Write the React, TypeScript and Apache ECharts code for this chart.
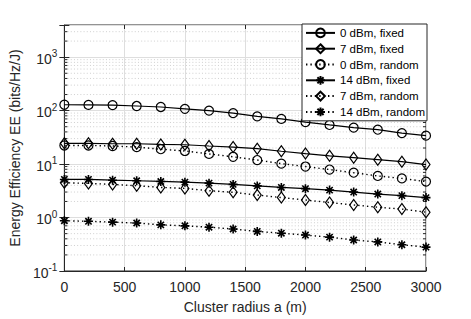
import React, { useEffect, useRef } from "react";
import * as echarts from "echarts";

const radius = [0, 200, 400, 600, 800, 1000, 1200, 1400, 1600, 1800, 2000, 2200, 2400, 2600, 2800, 3000];
const fixed0dBm = [129, 128, 127, 122, 117, 108, 100, 90, 78, 70, 61, 54, 48, 44, 38, 34];
const fixed7dBm = [24.5, 24.5, 24, 24, 23.3, 23, 21.8, 20.8, 19.4, 17.4, 15.7, 14.3, 13.2, 12.1, 11.1, 9.8];
const random0dBm = [22.3, 22.3, 21.8, 20.8, 19.0, 17.6, 15.5, 13.7, 11.9, 10.2, 9.0, 7.9, 6.9, 6.0, 5.4, 4.7];
const fixed14dBm = [5.16, 5.16, 5.0, 4.88, 4.73, 4.59, 4.4, 4.17, 3.91, 3.66, 3.47, 3.26, 3.0, 2.75, 2.57, 2.36];
const random7dBm = [4.48, 4.35, 4.17, 3.94, 3.66, 3.51, 3.18, 2.96, 2.64, 2.36, 2.13, 1.91, 1.72, 1.56, 1.44, 1.26];
const random14dBm = [0.87, 0.85, 0.82, 0.79, 0.73, 0.7, 0.66, 0.61, 0.55, 0.51, 0.47, 0.43, 0.38, 0.35, 0.31, 0.28];

const seriesNames = ["0 dBm, fixed", "7 dBm, fixed", "0 dBm, random", "14 dBm, fixed", "7 dBm, random", "14 dBm, random"];
const xMin = 0;
const xMax = 3000;
const xStep = 500;
const yMin = 0.1;
const yMax = 4000;
const minorGridValues = [
  0.2, 0.3, 0.4, 0.5, 0.6, 0.7, 0.8, 0.9,
  2, 3, 4, 5, 6, 7, 8, 9,
  20, 30, 40, 50, 60, 70, 80, 90,
  200, 300, 400, 500, 600, 700, 800, 900,
  2000, 3000,
];

const FONT = "'Liberation Sans', Arial, Helvetica, sans-serif";
const AXIS = "#262626";
const GRID = "#dedede";
const STAR = "path://M5 0L5 10M0 5L10 5M1.5 1.5L8.5 8.5M8.5 1.5L1.5 8.5";

function makeSeries(name: string, values: number[], symbol: string, size: any, dotted: boolean) {
  return {
    name,
    type: "line",
    data: radius.map((x, i) => [x, values[i]]),
    symbol,
    symbolSize: size,
    showAllSymbol: true,
    lineStyle: { color: "#000", width: dotted ? 1.4 : 1.2, type: dotted ? [1.4, 3] : "solid" },
    itemStyle: { color: "none", borderColor: "#000", borderWidth: symbol === STAR ? 1.6 : 1.2 },
    emphasis: { disabled: true },
    z: 3,
  };
}

export default function App() {
  const ref = useRef<HTMLDivElement>(null);
  useEffect(() => {
    const chart = echarts.init(ref.current!, null, { renderer: "svg" });
    const option: any = {
      animation: false,
      backgroundColor: "#fff",
      textStyle: { fontFamily: FONT },
      grid: {
        left: 61.7,
        right: 45,
        top: 25,
        bottom: 45.7,
        show: true,
        borderColor: AXIS,
        borderWidth: 1,
        backgroundColor: "transparent",
      },
      legend: {
        data: seriesNames,
        orient: "vertical",
        left: 302,
        top: 24,
        itemWidth: 29,
        itemHeight: 11,
        itemGap: 2,
        padding: [2, 2, 2, 3],
        backgroundColor: "#fff",
        borderColor: AXIS,
        borderWidth: 1,
        borderRadius: 0,
        textStyle: { fontSize: 11.5, color: "#000", fontFamily: FONT, lineHeight: 12 },
        selectedMode: false,
      },
      xAxis: [
        {
          type: "value",
          min: xMin,
          max: xMax,
          interval: xStep,
          name: "Cluster radius a (m)",
          nameLocation: "middle",
          nameGap: 29,
          nameTextStyle: { fontSize: 14, color: AXIS, fontFamily: FONT },
          axisLine: { show: true, lineStyle: { color: AXIS } },
          axisTick: { show: true, inside: true, length: 4, lineStyle: { color: AXIS } },
          axisLabel: { fontSize: 14, color: AXIS, margin: 9, fontFamily: FONT, formatter: (v: number) => String(v) },
          splitLine: { show: true, lineStyle: { color: GRID, width: 1 } },
        },
        {
          type: "value",
          position: "top",
          min: xMin,
          max: xMax,
          interval: xStep,
          axisLine: { show: false },
          axisTick: { show: true, inside: true, length: 4, lineStyle: { color: AXIS } },
          axisLabel: { show: false },
          splitLine: { show: false },
        },
      ],
      yAxis: [
        {
          type: "log",
          logBase: 10,
          min: yMin,
          max: yMax,
          interval: 1,
          name: "Energy Efficiency EE (bits/Hz/J)",
          nameLocation: "middle",
          nameGap: 36,
          nameTextStyle: { fontSize: 14, color: AXIS, fontFamily: FONT },
          axisLine: { show: true, lineStyle: { color: AXIS } },
          axisTick: { show: true, inside: true, length: 5, lineStyle: { color: AXIS } },
          axisLabel: {
            margin: 7,
            color: AXIS,
            formatter: (v: number) => {
              const l = Math.log10(v);
              const e = Math.round(l);
              if (Math.abs(l - e) > 1e-6 || v >= yMax) return "";
              return `{b|10}{s|${e}}`;
            },
            rich: {
              b: { fontSize: 14, color: AXIS, fontFamily: FONT, lineHeight: 17, verticalAlign: "bottom" },
              s: { fontSize: 10, color: AXIS, fontFamily: FONT, lineHeight: 17, verticalAlign: "top" },
            },
          },
          splitLine: { show: true, lineStyle: { color: GRID, width: 1 } },
        },
        {
          type: "log",
          logBase: 10,
          position: "right",
          min: yMin,
          max: yMax,
          interval: 1,
          axisLine: { show: false },
          axisTick: { show: true, inside: true, length: 5, lineStyle: { color: AXIS } },
          axisLabel: { show: false },
          splitLine: { show: false },
        },
      ],
      series: [
        {
          type: "custom",
          silent: true,
          z: 1,
          data: minorGridValues.map((v) => [xMin, v]),
          renderItem: (params: any, api: any) => {
            const v = api.value(1);
            const a = api.coord([xMin, v]);
            const b = api.coord([xMax, v]);
            return {
              type: "group",
              children: [
                {
                  type: "line",
                  shape: { x1: a[0], y1: a[1], x2: b[0], y2: b[1] },
                  style: { stroke: "#c4c4c4", lineWidth: 0.8, lineDash: [1, 2.2] },
                },
                {
                  type: "line",
                  shape: { x1: a[0], y1: a[1], x2: a[0] + 3, y2: a[1] },
                  style: { stroke: AXIS, lineWidth: 1 },
                },
                {
                  type: "line",
                  shape: { x1: b[0] - 3, y1: b[1], x2: b[0], y2: b[1] },
                  style: { stroke: AXIS, lineWidth: 1 },
                },
              ],
            };
          },
        },
        makeSeries(seriesNames[0], fixed0dBm, "circle", 9, false),
        makeSeries(seriesNames[1], fixed7dBm, "diamond", [8, 11], false),
        makeSeries(seriesNames[2], random0dBm, "circle", 9, true),
        makeSeries(seriesNames[3], fixed14dBm, STAR, 9, false),
        makeSeries(seriesNames[4], random7dBm, "diamond", [8, 11], true),
        makeSeries(seriesNames[5], random14dBm, STAR, 9, true),
      ],
    };
    chart.setOption(option);
    return () => chart.dispose();
  }, []);
  return (
    <div
      ref={ref}
      style={{ position: "fixed", left: 0, top: 0, width: 471, height: 319, background: "#fff" }}
    />
  );
}
